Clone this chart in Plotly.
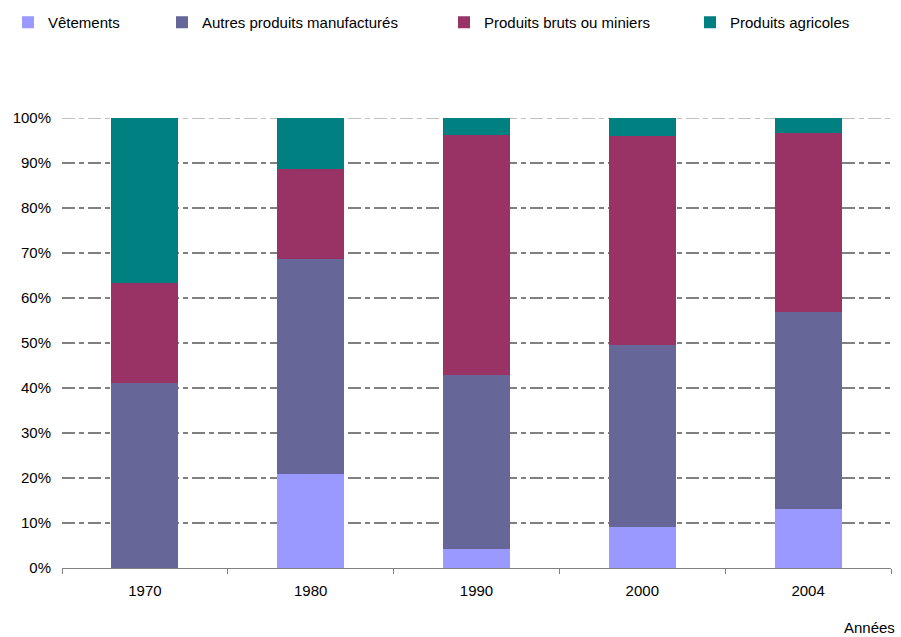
import plotly.graph_objects as go

annees = ["1970", "1980", "1990", "2000", "2004"]
vetements = [0.0, 20.9, 4.2, 9.1, 13.1]
autres = [41.1, 47.8, 38.7, 40.5, 43.8]
bruts = [22.2, 19.9, 53.3, 46.5, 39.7]
agricoles = [36.7, 11.4, 3.8, 3.9, 3.4]
y_ticks = [0, 10, 20, 30, 40, 50, 60, 70, 80, 90, 100]
y_tick_labels = ["0%", "10%", "20%", "30%", "40%", "50%", "60%", "70%", "80%", "90%", "100%"]

series_names = ["Vêtements", "Autres produits manufacturés", "Produits bruts ou miniers", "Produits agricoles"]
series_values = [vetements, autres, bruts, agricoles]
colors = ["#9999FF", "#666699", "#993366", "#008080"]
legend_ids = ["legend", "legend2", "legend3", "legend4"]
legend_text_x = [50, 204, 486, 732]

W, H = 901, 637
FONT = "Liberation Sans, Arial, sans-serif"

fig = go.Figure()
for name, vals, col, lid in zip(series_names, series_values, colors, legend_ids):
    fig.add_trace(go.Bar(x=annees, y=vals, name=name, marker_color=col,
                         marker_line_width=0, legend=lid))

layout_legends = {}
for lid, tx in zip(legend_ids, legend_text_x):
    layout_legends[lid] = dict(
        xref="container", yref="container",
        x=(tx - 42) / W, xanchor="left",
        y=1 - 6 / H, yanchor="top",
        font=dict(family=FONT, size=15, color="#000000"),
        bgcolor="rgba(0,0,0,0)", borderwidth=0,
        orientation="h",
    )

fig.update_layout(
    width=W, height=H,
    margin=dict(l=62, r=10, t=118, b=69),
    paper_bgcolor="white", plot_bgcolor="white",
    barmode="stack", bargap=0.596,
    font=dict(family=FONT, size=15, color="#000000"),
    showlegend=True,
    **layout_legends,
)

fig.update_xaxes(
    type="category",
    showline=True, linecolor="#808080", linewidth=1,
    ticks="outside", tickson="boundaries", ticklen=5, tickcolor="#808080",
    showgrid=False, ticklabelstandoff=9,
    tickfont=dict(family=FONT, size=15, color="#000000"),
)
fig.update_yaxes(
    range=[0, 100], tickvals=y_ticks, ticktext=y_tick_labels,
    ticks="", ticklabelstandoff=10,
    showgrid=True, gridcolor="#808080", gridwidth=2,
    griddash="13px,4px,5px,4px",
    zeroline=False, showline=False,
    tickfont=dict(family=FONT, size=15, color="#000000"),
)

# lighter top line at 100%
fig.add_shape(type="line", xref="paper", yref="y", x0=0, x1=1, y0=100, y1=100,
              line=dict(color="white", width=3), layer="below")
fig.add_shape(type="line", xref="paper", yref="y", x0=0, x1=1, y0=100, y1=100,
              line=dict(color="#C0C0C0", width=2, dash="13px,4px,5px,4px"), layer="below")

fig.add_annotation(text="Années", xref="paper", yref="paper",
                   x=(896 - 62) / 829, y=(568 - 627) / 450,
                   xanchor="right", yanchor="middle", showarrow=False,
                   borderpad=0,
                   font=dict(family=FONT, size=15, color="#000000"))

fig.write_html("out.html")
